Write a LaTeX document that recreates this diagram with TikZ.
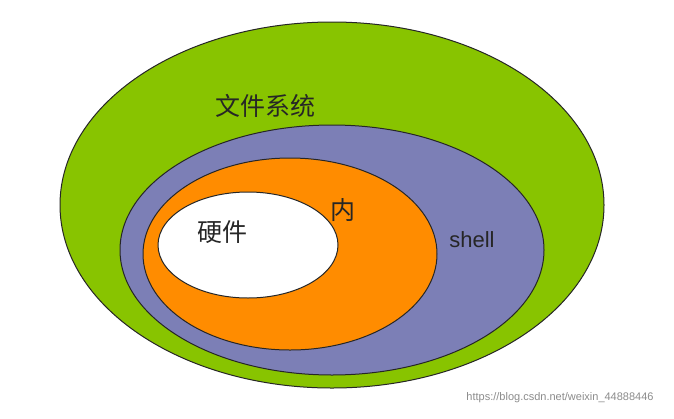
\documentclass[tikz,border=0pt]{standalone}
\usepackage{fontspec}
\setmainfont{Liberation Sans}
\newfontfamily\cjk{Noto Sans CJK SC}
\begin{document}
\begin{tikzpicture}[x=1pt,y=-1pt,
  ring/.style={draw=black!85,line width=1pt},
  lbl/.style={font=\cjk\fontsize{25}{30}\selectfont,text=black!85}]
\useasboundingbox[fill=white] (0,0) rectangle (674,418);
\fill[ring,fill={rgb,255:red,136;green,196;blue,0}] (332,205) ellipse [x radius=272,y radius=183];
\fill[ring,fill={rgb,255:red,124;green,127;blue,182}] (332,250) ellipse [x radius=212,y radius=125];
\fill[ring,fill={rgb,255:red,255;green,140;blue,0}] (290,254) ellipse [x radius=147,y radius=96];
\fill[ring,fill=white] (248,245) ellipse [x radius=90,y radius=53];
\node[lbl] (fs) at (265,106) {文件系统};
\node[lbl] (nei) at (343,210) {内};
\node[font=\fontsize{22}{26}\selectfont,text=black!85] (sh) at (472,240) {shell};
\node[lbl] (hw) at (222,232) {硬件};
\node[font=\fontsize{11}{13}\selectfont,text=black!45] (wm) at (560,398) {https://blog.csdn.net/weixin\_44888446};
\end{tikzpicture}
\end{document}
